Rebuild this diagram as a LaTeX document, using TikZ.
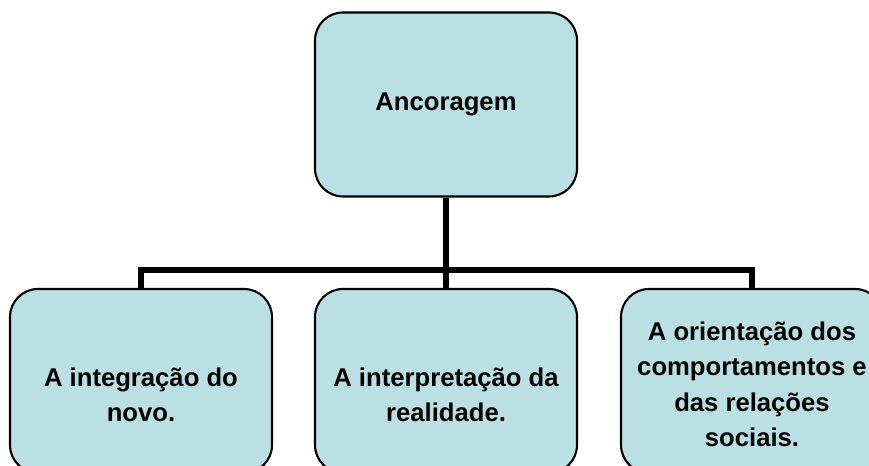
\documentclass[tikz,border=0pt]{standalone}
\usepackage{fontspec}
\setmainfont{Liberation Sans}
\definecolor{azulcaixa}{HTML}{BBE0E3}
\tikzset{
  caixa/.style={draw, fill=azulcaixa, line width=0.6pt, rounded corners=0.28cm,
    minimum width=2.62cm, minimum height=1.84cm, inner sep=0pt},
  texto/.style={font=\bfseries\fontsize{7.3}{10.1}\selectfont, align=center},
  ligacao/.style={line width=1.7pt}
}
\begin{document}
\begin{tikzpicture}
\useasboundingbox (0,0) rectangle (8.69,4.66);
\clip (0,0) rectangle (8.69,4.66);
\node [caixa, texto] (ancoragem) at (4.46,3.615) {Ancoragem};
\node [caixa] (integracao) at (1.41,0.85) {};
\node [caixa] (interpretacao) at (4.46,0.85) {};
\node [caixa] (orientacao) at (7.52,0.85) {};
\node [texto] (integracao-txt) at ([yshift=-0.14cm]integracao.center) {A integração do\\novo.};
\node [texto] (interpretacao-txt) at ([yshift=-0.14cm]interpretacao.center) {A interpretação da\\realidade.};
\node [texto] (orientacao-txt) at ([yshift=-0.035cm]orientacao.center) {A orientação dos\\comportamentos e\\das relações\\sociais.};
% barra horizontal
\coordinate (barra) at (4.46,1.96);
\draw [ligacao] (ancoragem) -- (interpretacao);
\draw [ligacao] (integracao) |- (barra) -| (orientacao);
\end{tikzpicture}
\end{document}
